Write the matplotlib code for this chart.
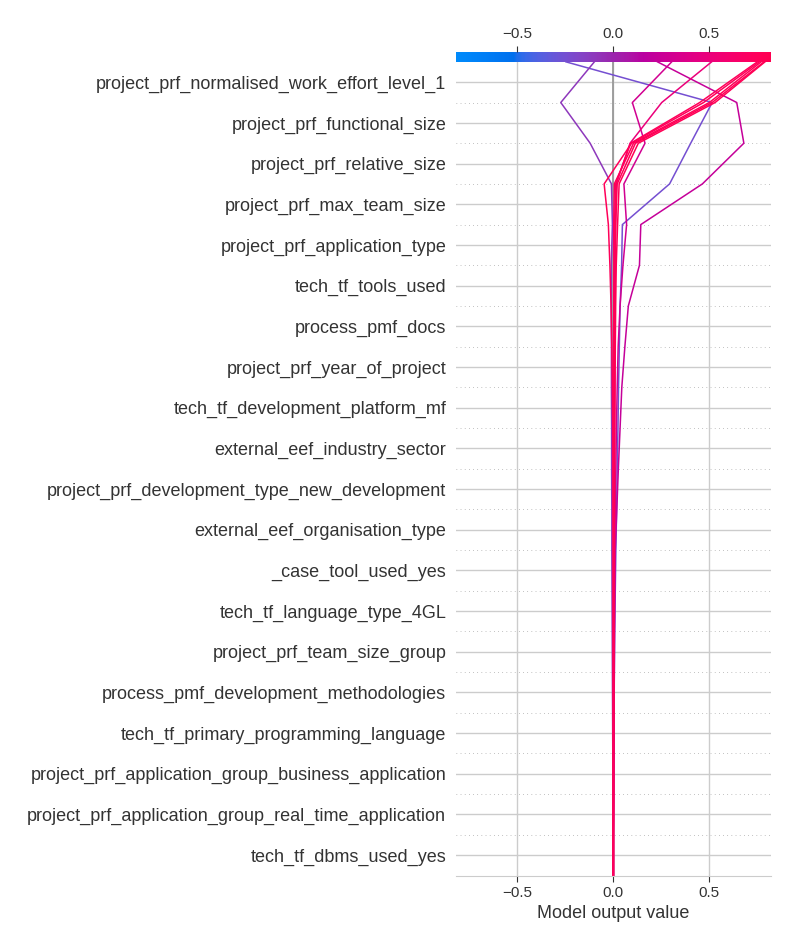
import numpy as np
import matplotlib
matplotlib.use("Agg")
import matplotlib.pyplot as plt
from matplotlib import cm
from matplotlib.colors import LinearSegmentedColormap, Normalize

plt.rcParams["font.family"] = ["Liberation Sans", "DejaVu Sans"]

# features, most important first (top of the plot)
feature_names = [
    "project_prf_normalised_work_effort_level_1",
    "project_prf_functional_size",
    "project_prf_relative_size",
    "project_prf_max_team_size",
    "project_prf_application_type",
    "tech_tf_tools_used",
    "process_pmf_docs",
    "project_prf_year_of_project",
    "tech_tf_development_platform_mf",
    "external_eef_industry_sector",
    "project_prf_development_type_new_development",
    "external_eef_organisation_type",
    "_case_tool_used_yes",
    "tech_tf_language_type_4GL",
    "project_prf_team_size_group",
    "process_pmf_development_methodologies",
    "tech_tf_primary_programming_language",
    "project_prf_application_group_business_application",
    "project_prf_application_group_real_time_application",
    "tech_tf_dbms_used_yes",
]

base_value = 0.0
xlim = (-0.82, 0.82)

# shap values per observation, same order as feature_names
shap_obs1 = [-0.762, 0.112, 0.110, 0.246, 0.004, 0.008, 0.004, 0.004, 0.003, 0.004,
             0.003, 0.004, 0.003, 0.003, 0.002, 0.002, 0.001, 0.001, 0.001, 0.000]
shap_obs2 = [0.175, -0.153, -0.111, -0.005, 0.006, 0.000, -0.001, 0.000, -0.001, 0.000,
             -0.001, 0.000, -0.001, -0.001, -0.001, -0.001, -0.001, -0.001, -0.001, -0.001]
shap_obs3 = [-0.413, -0.037, 0.216, 0.321, 0.007, 0.058, 0.018, 0.016, 0.009, 0.009,
             0.008, 0.008, 0.002, 0.002, 0.001, 0.001, 0.001, 0.001, 0.001, 0.001]
shap_obs4 = [0.205, -0.066, 0.110, -0.014, 0.019, 0.015, 0.010, 0.005, 0.004, 0.003,
             0.003, 0.002, 0.002, 0.001, 0.001, 0.001, 0.001, 0.001, 0.001, 0.000]
shap_obs5 = [0.260, 0.165, 0.072, 0.003, 0.002, 0.001, 0.001, 0.001, 0.001, 0.000,
             0.001, 0.001, 0.001, 0.000, 0.001, 0.000, 0.001, 0.000, 0.001, 0.000]
shap_obs6 = [0.260, 0.400, 0.100, 0.008, 0.007, 0.003, 0.002, 0.001, 0.001, 0.001,
             0.001, 0.001, 0.001, 0.001, 0.001, 0.000, 0.001, 0.000, 0.001, 0.000]
shap_obs7 = [0.270, 0.400, 0.095, 0.008, 0.004, 0.002, 0.001, 0.001, 0.001, 0.001,
             0.001, 0.000, 0.000, 0.001, 0.000, 0.000, 0.000, 0.000, 0.000, 0.000]
shap_obs8 = [0.270, 0.395, 0.100, 0.003, -0.001, 0.001, 0.001, 0.000, 0.000, 0.001,
             0.000, 0.000, 0.000, 0.000, 0.000, 0.000, 0.000, 0.000, 0.000, 0.000]
shap_obs9 = [0.290, 0.375, 0.143, -0.022, -0.008, -0.006, -0.004, -0.003, -0.002, -0.001,
             -0.001, -0.001, 0.000, 0.000, 0.000, 0.000, 0.000, 0.000, 0.000, 0.000]
shap_obs10 = [0.300, 0.360, 0.078, 0.006, 0.002, 0.001, 0.001, 0.001, 0.001, 0.000,
              0.000, 0.000, 0.000, 0.000, 0.000, 0.000, 0.000, 0.000, 0.000, 0.000]

shap_values = np.array([shap_obs1, shap_obs2, shap_obs3, shap_obs4, shap_obs5,
                        shap_obs6, shap_obs7, shap_obs8, shap_obs9, shap_obs10])


def lch2rgb(l, c, h):
    """CIE LCh (hue in radians) -> sRGB, D65."""
    a, b = c * np.cos(h), c * np.sin(h)
    fy = (l + 16) / 116
    fx, fz = fy + a / 500, fy - b / 200
    def finv(t):
        return t ** 3 if t > 6 / 29 else 3 * (6 / 29) ** 2 * (t - 4 / 29)
    xyz = np.array([0.95047 * finv(fx), finv(fy), 1.08883 * finv(fz)])
    m = np.array([[3.2406, -1.5372, -0.4986],
                  [-0.9689, 1.8758, 0.0415],
                  [0.0557, -0.2040, 1.0570]])
    lin = m @ xyz
    rgb = np.where(lin > 0.0031308, 1.055 * np.abs(lin) ** (1 / 2.4) - 0.055, 12.92 * lin)
    return np.clip(rgb, 0, 1)


# shap style red-blue map, interpolated in LCh
blue_lch = [54., 70., 4.6588]
red_lch = [54., 90., 0.35470565 + 2 * np.pi]
nsteps = 100
l_vals = list(np.linspace(blue_lch[0], 40., nsteps // 2)) + list(np.linspace(40., red_lch[0], nsteps // 2))
c_vals = np.linspace(blue_lch[1], red_lch[1], nsteps)
h_vals = np.linspace(blue_lch[2], red_lch[2], nsteps)
red_blue = LinearSegmentedColormap.from_list(
    "red_blue", [lch2rgb(l, c, h) for l, c, h in zip(l_vals, c_vals, h_vals)])

n_feat = len(feature_names)
norm = Normalize(vmin=xlim[0], vmax=xlim[1])

fig = plt.figure(figsize=(8, 9.5), dpi=100)
ax = fig.add_axes([0.57, 0.0784, 0.3934, 0.8672])

y_pos = np.arange(n_feat + 1)
for row in shap_values:
    path = base_value + np.concatenate([[0], np.cumsum(row[::-1])])
    ax.plot(path, y_pos, color=red_blue(norm(path[-1])), linewidth=1.1, zorder=2)

for i in range(n_feat):
    ax.axhline(i, color="#888888", lw=0.5, dashes=(1, 5), zorder=-1)
ax.axvline(base_value, color="#999999", lw=1.3, zorder=1)

ax.set_yticks(np.arange(n_feat) + 0.5)
ax.set_yticklabels(feature_names[::-1], fontsize=13, color="#333333")
ax.set_xlim(xlim)
ax.set_ylim(0, n_feat + 0.25)
ax.set_xticks([-0.5, 0.0, 0.5])
ax.grid(True, color="#cccccc", lw=1)
ax.set_axisbelow(True)
ax.tick_params(axis="y", length=0, pad=7)
ax.tick_params(axis="x", labelsize=11, labelcolor="#333333", color="#333333", length=4)
ax.set_xlabel("Model output value", fontsize=13, color="#333333")
for side in ["left", "right", "top"]:
    ax.spines[side].set_visible(False)
ax.spines["bottom"].set_color("#cccccc")

# colour bar along the top
ax_cb = ax.inset_axes([xlim[0], n_feat, xlim[1] - xlim[0], 0.25], transform=ax.transData)
m = cm.ScalarMappable(norm=norm, cmap=red_blue)
cb = fig.colorbar(m, cax=ax_cb, orientation="horizontal")
cb.set_ticks([])
cb.outline.set_visible(False)

ax2 = ax.twiny()
ax2.set_xlim(xlim)
ax2.set_xticks([-0.5, 0.0, 0.5])
ax2.tick_params(axis="x", labelsize=11, labelcolor="#333333", color="#333333", length=4)
for side in ax2.spines:
    ax2.spines[side].set_visible(False)

fig.savefig("out.png", dpi=100)
